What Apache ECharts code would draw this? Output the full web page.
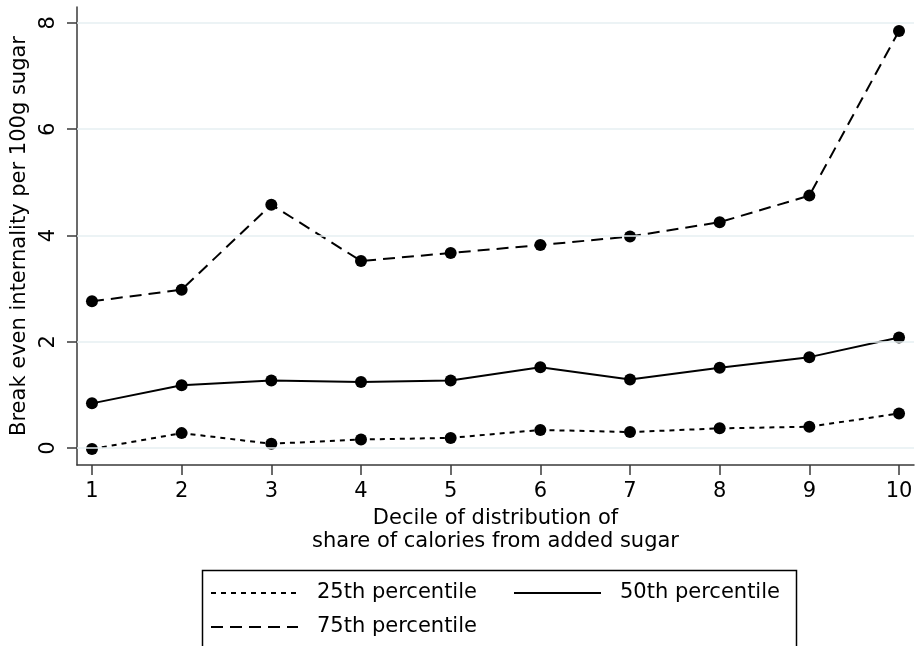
<!DOCTYPE html>
<html>
<head>
<meta charset="utf-8">
<script src="https://cdn.jsdelivr.net/npm/echarts@6/dist/echarts.min.js"></script>
<style>
html,body{margin:0;padding:0;background:#fff;}
#chart{width:917px;height:646px;}
</style>
</head>
<body>
<div id="chart"></div>
<script>
var deciles = [1, 2, 3, 4, 5, 6, 7, 8, 9, 10];
var p25 = [-0.02, 0.28, 0.08, 0.16, 0.19, 0.34, 0.30, 0.37, 0.40, 0.65];
var p50 = [0.84, 1.18, 1.27, 1.24, 1.27, 1.52, 1.29, 1.51, 1.71, 2.08];
var p75 = [2.76, 2.98, 4.58, 3.52, 3.67, 3.82, 3.98, 4.25, 4.75, 7.85];
var xTicks = [1, 2, 3, 4, 5, 6, 7, 8, 9, 10];
var yTicks = [0, 2, 4, 6, 8];
var seriesNames = ['25th percentile', '50th percentile', '75th percentile'];

var FONT = 'DejaVu Sans';
var FS = 21;
var AXIS = '#3a3a3a';

function pairs(vals) { return deciles.map(function (d, i) { return [d, vals[i]]; }); }

var dashes = { '25th percentile': [5, 5], '50th percentile': 'solid', '75th percentile': [12, 7] };

function mkSeries(name, vals) {
  return {
    name: name, type: 'line', data: pairs(vals), z: 3,
    symbol: 'circle', symbolSize: 12,
    itemStyle: { color: '#000' },
    lineStyle: { color: '#000', width: 2, type: dashes[name] },
    emphasis: { disabled: true }, animation: false
  };
}

function mkLegend(name, left, top) {
  return {
    data: [name], left: left, top: top, padding: 0,
    itemWidth: 87, itemHeight: 14, selectedMode: false,
    itemStyle: { opacity: 0 },
    lineStyle: { color: '#000', width: 2, type: dashes[name] },
    textStyle: { fontFamily: FONT, fontSize: FS, color: '#000', lineHeight: 22, padding: [0, 0, 0, 14] }
  };
}

var chart = echarts.init(document.getElementById('chart'), null, { renderer: 'canvas' });
chart.setOption({
  animation: false,
  backgroundColor: '#fff',
  grid: { left: 77, right: 3, top: 7, bottom: 181, containLabel: false },
  xAxis: {
    type: 'value', min: 0.833, max: 10.167,
    name: 'Decile of distribution of\nshare of calories from added sugar',
    nameLocation: 'middle', nameGap: 40,
    nameTextStyle: { fontFamily: FONT, fontSize: FS, color: '#000', lineHeight: 23 },
    axisLine: { show: true, onZero: false, lineStyle: { color: AXIS, width: 1.5 } },
    axisTick: { show: true, length: 10, customValues: xTicks, lineStyle: { color: AXIS, width: 1.5 } },
    axisLabel: { customValues: xTicks, margin: 16, fontFamily: FONT, fontSize: FS, color: '#000' },
    splitLine: { show: false }
  },
  yAxis: {
    type: 'value', min: -0.32, max: 8.30,
    name: 'Break even internality per 100g sugar',
    nameLocation: 'middle', nameGap: 44, nameRotate: 90,
    nameTextStyle: { fontFamily: FONT, fontSize: FS, color: '#000' },
    axisLine: { show: true, onZero: false, lineStyle: { color: AXIS, width: 1.5 } },
    axisTick: { show: true, length: 10, customValues: yTicks, lineStyle: { color: AXIS, width: 1.5 } },
    axisLabel: { customValues: yTicks, rotate: 90, margin: 18, fontFamily: FONT, fontSize: FS, color: '#000' },
    splitLine: { show: false }
  },
  legend: [
    mkLegend(seriesNames[0], 210, 582),
    mkLegend(seriesNames[1], 513, 582),
    mkLegend(seriesNames[2], 210, 616)
  ],
  graphic: [{
    type: 'rect', left: 200, top: 568, silent: true,
    shape: { width: 594, height: 110 },
    style: { fill: 'none', stroke: '#000', lineWidth: 1.5 }
  }],
  series: [
    {
      name: 'grid', type: 'line', data: [], z: 1, silent: true,
      markLine: {
        silent: true, symbol: 'none', animation: false,
        label: { show: false },
        lineStyle: { color: '#e6eff2', width: 1.5, type: 'solid' },
        emphasis: { disabled: true },
        data: yTicks.map(function (v) { return { yAxis: v }; })
      }
    },
    mkSeries(seriesNames[0], p25),
    mkSeries(seriesNames[1], p50),
    mkSeries(seriesNames[2], p75)
  ]
});
</script>
</body>
</html>
